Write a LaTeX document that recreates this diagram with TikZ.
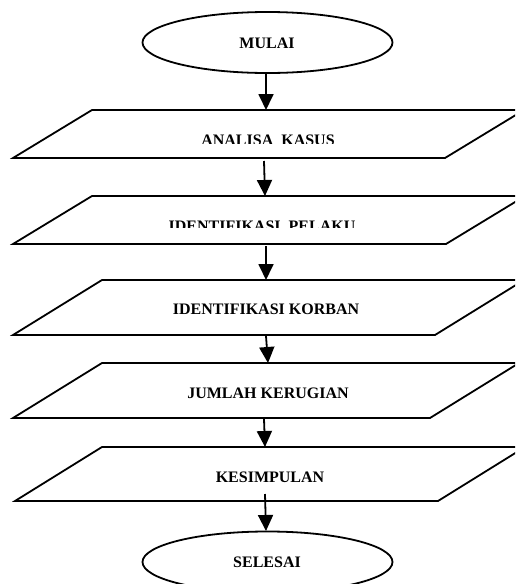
\documentclass[tikz,border=0pt]{standalone}
\usepackage{fontspec}
\setmainfont{Liberation Serif}
\usetikzlibrary{shapes.geometric,arrows.meta}
\tikzset{
  term/.style={ellipse,draw,line width=1.8pt,minimum width=250pt,minimum height=61pt,inner sep=0pt},
  para/.style={draw,line width=1.8pt,line join=miter},
  lbl/.style={anchor=base,inner sep=0pt,font=\fontsize{16}{18}\selectfont\bfseries},
  flow/.style={line width=1.8pt,-{Triangle[width=15pt,length=16pt]}}
}
\begin{document}
\begin{tikzpicture}[x=1pt,y=-1pt]
\useasboundingbox (0,0) rectangle (515,584);
\begin{scope}
\clip (0,0) rectangle (515,584);
% start
\node[term] (start) at (267.5,42.5) {};
\node[lbl] (tstart) at (267,48) {MULAI};
% parallelograms
\draw[para] (92,110) -- (524,110) -- (445,158) -- (13,158) -- cycle;
\draw[para] (92,196) -- (525,196) -- (446,244) -- (13,244) -- cycle;
\draw[para] (102,280) -- (524,280) -- (435,335) -- (13,335) -- cycle;
\draw[para] (102,363) -- (519,363) -- (430,418) -- (13,418) -- cycle;
\draw[para] (102,447) -- (525,447) -- (438,501) -- (15,501) -- cycle;
\begin{scope}
\clip (0,0) rectangle (515,143.5);
\node[lbl] (t1) at (268,145) {ANALISA\ \ KASUS};
\end{scope}
\begin{scope}
\clip (0,0) rectangle (515,227.5);
\node[lbl] (t2) at (262,231) {IDENTIFIKASI\ \ PELAKU};
\end{scope}
\node[lbl] (t3) at (266,314) {IDENTIFIKASI KORBAN};
\node[lbl] (t4) at (268,398) {JUMLAH KERUGIAN};
\node[lbl] (t5) at (270,482) {KESIMPULAN};
% end
\node[term] (stop) at (267.5,562) {};
\node[lbl] (tstop) at (267,567) {SELESAI};
% connector points
\coordinate (a1s) at (266,73);
\coordinate (a1e) at (266,110);
\coordinate (a2s) at (264,161);
\coordinate (a2e) at (265,196);
\coordinate (a3s) at (266,246);
\coordinate (a3e) at (266,280);
\coordinate (a4s) at (266,336);
\coordinate (a4e) at (268,363);
\coordinate (a5s) at (264,419);
\coordinate (a5e) at (265,447);
\coordinate (a6s) at (265,494);
\coordinate (a6e) at (266,531);
\draw[flow] (a1s) -- (a1e);
\draw[flow] (a2s) -- (a2e);
\draw[flow] (a3s) -- (a3e);
\draw[flow] (a4s) -- (a4e);
\draw[flow] (a5s) -- (a5e);
\draw[flow] (a6s) -- (a6e);
\end{scope}
\end{tikzpicture}
\end{document}
